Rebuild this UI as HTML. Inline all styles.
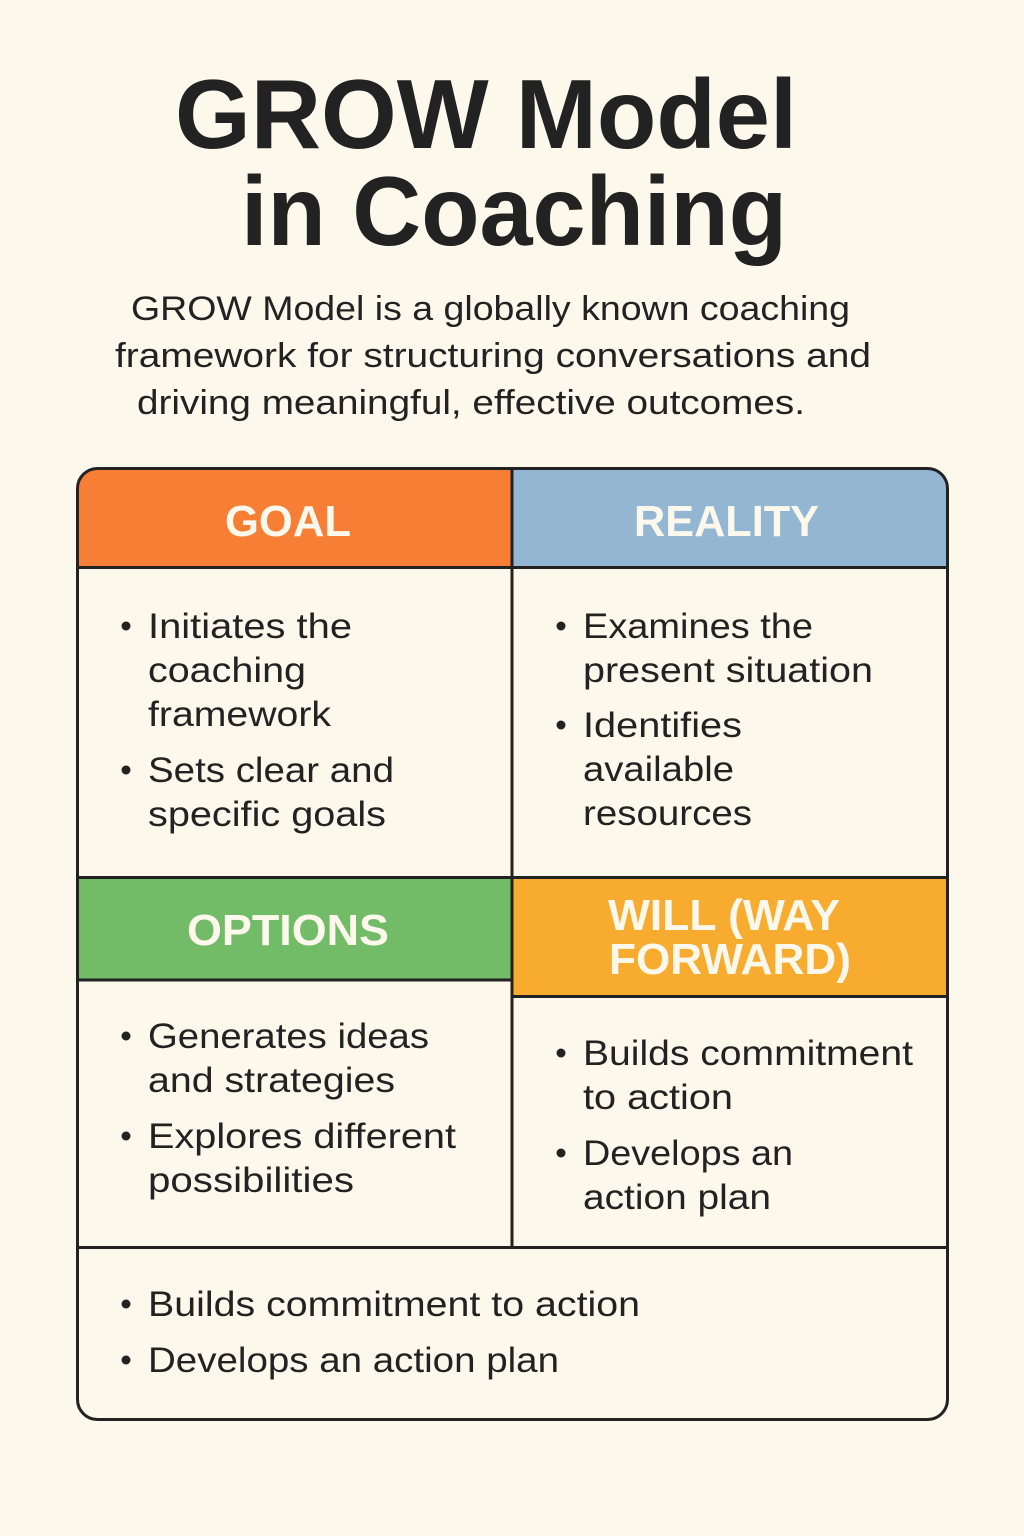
<!DOCTYPE html>
<html><head><meta charset="utf-8"><style>
html,body{margin:0;padding:0;background:#fdf8ec;}
svg{display:block}
text{font-family:"Liberation Sans",sans-serif;}
</style></head><body>
<svg width="1024" height="1536" viewBox="0 0 1024 1536" xmlns="http://www.w3.org/2000/svg">
<rect width="1024" height="1536" fill="#fdf8ec"/>
<g fill="#222222" font-weight="bold" font-size="98">
<text x="175" y="148" textLength="622" lengthAdjust="spacingAndGlyphs">GROW Model</text>
<text x="241" y="245" textLength="546" lengthAdjust="spacingAndGlyphs">in Coaching</text>
</g>
<g fill="#222222" font-size="34">
<text x="131" y="320" textLength="719" lengthAdjust="spacingAndGlyphs">GROW Model is a globally known coaching</text>
<text x="115" y="367" textLength="756" lengthAdjust="spacingAndGlyphs">framework for structuring conversations and</text>
<text x="137" y="414" textLength="668" lengthAdjust="spacingAndGlyphs">driving meaningful, effective outcomes.</text>
</g>
<rect x="77.5" y="468.5" width="870" height="951" rx="20" fill="#fdf8ec"/>
<path d="M97.5 468.5 H511 V567 H77.5 V488.5 A20 20 0 0 1 97.5 468.5Z" fill="#f77f35"/>
<path d="M513 468.5 H927.5 A20 20 0 0 1 947.5 488.5 V567 H513Z" fill="#93b6d2"/>
<rect x="77.5" y="878" width="434" height="101" fill="#72bb67"/>
<rect x="513" y="878" width="434.5" height="118" fill="#f8ac2f"/>
<g stroke="#222" stroke-width="3" fill="none">
<rect x="77.5" y="468.5" width="870" height="951" rx="20"/>
<line x1="512" y1="468" x2="512" y2="1247"/>
<line x1="77" y1="567.5" x2="948" y2="567.5"/>
<line x1="77" y1="877.5" x2="948" y2="877.5"/>
<line x1="77" y1="980" x2="512" y2="980"/>
<line x1="512" y1="996.5" x2="948" y2="996.5"/>
<line x1="77" y1="1247.5" x2="948" y2="1247.5"/>
</g>
<g fill="#fdf8ec" font-weight="bold" font-size="44">
<text x="225" y="536" textLength="126" lengthAdjust="spacingAndGlyphs">GOAL</text>
<text x="634" y="536" textLength="185" lengthAdjust="spacingAndGlyphs">REALITY</text>
<text x="187" y="945" textLength="202" lengthAdjust="spacingAndGlyphs">OPTIONS</text>
<text x="608" y="930" textLength="232" lengthAdjust="spacingAndGlyphs">WILL (WAY</text>
<text x="609" y="974" textLength="242" lengthAdjust="spacingAndGlyphs">FORWARD)</text>
</g>
<g fill="#222" font-size="35">
<g>
<circle cx="126" cy="626" r="4.5"/><text x="148" y="638" textLength="204" lengthAdjust="spacingAndGlyphs">Initiates the</text>
<text x="148" y="682" textLength="158" lengthAdjust="spacingAndGlyphs">coaching</text><text x="148" y="726" textLength="183" lengthAdjust="spacingAndGlyphs">framework</text>
<circle cx="126" cy="770" r="4.5"/><text x="148" y="782" textLength="246" lengthAdjust="spacingAndGlyphs">Sets clear and</text>
<text x="148" y="826" textLength="238" lengthAdjust="spacingAndGlyphs">specific goals</text>
</g>
<g>
<circle cx="561" cy="626" r="4.5"/><text x="583" y="638" textLength="230" lengthAdjust="spacingAndGlyphs">Examines the</text>
<text x="583" y="682" textLength="290" lengthAdjust="spacingAndGlyphs">present situation</text>
<circle cx="561" cy="725" r="4.5"/><text x="583" y="737" textLength="159" lengthAdjust="spacingAndGlyphs">Identifies</text>
<text x="583" y="781" textLength="151" lengthAdjust="spacingAndGlyphs">available</text><text x="583" y="825" textLength="169" lengthAdjust="spacingAndGlyphs">resources</text>
</g>
<g>
<circle cx="126" cy="1036" r="4.5"/><text x="148" y="1048" textLength="281" lengthAdjust="spacingAndGlyphs">Generates ideas</text>
<text x="148" y="1092" textLength="247" lengthAdjust="spacingAndGlyphs">and strategies</text>
<circle cx="126" cy="1136" r="4.5"/><text x="148" y="1148" textLength="308" lengthAdjust="spacingAndGlyphs">Explores different</text>
<text x="148" y="1192" textLength="206" lengthAdjust="spacingAndGlyphs">possibilities</text>
</g>
<g>
<circle cx="561" cy="1053" r="4.5"/><text x="583" y="1065" textLength="330" lengthAdjust="spacingAndGlyphs">Builds commitment</text>
<text x="583" y="1109" textLength="150" lengthAdjust="spacingAndGlyphs">to action</text>
<circle cx="561" cy="1153" r="4.5"/><text x="583" y="1165" textLength="210" lengthAdjust="spacingAndGlyphs">Develops an</text>
<text x="583" y="1209" textLength="188" lengthAdjust="spacingAndGlyphs">action plan</text>
</g>
<g>
<circle cx="126" cy="1304" r="4.5"/><text x="148" y="1316" textLength="492" lengthAdjust="spacingAndGlyphs">Builds commitment to action</text>
<circle cx="126" cy="1360" r="4.5"/><text x="148" y="1372" textLength="411" lengthAdjust="spacingAndGlyphs">Develops an action plan</text>
</g>
</g>
</svg>
</body></html>
